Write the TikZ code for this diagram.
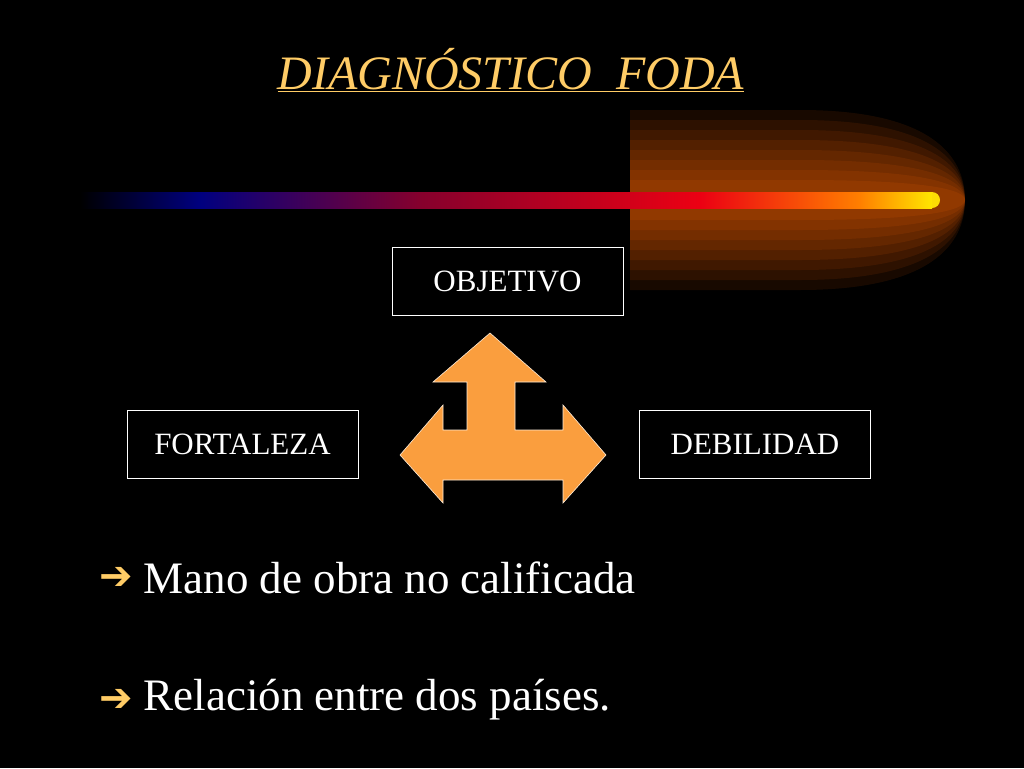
\documentclass[tikz,border=0pt]{standalone}
\usepackage{fontspec}
\setmainfont{Liberation Serif}
\newfontfamily\symfont{DejaVu Sans}
\usetikzlibrary{positioning}
\definecolor{gold}{RGB}{255,204,102}
\definecolor{flame}{RGB}{250,158,62}
\tikzset{
  labelbox/.style={draw=white, line width=0.8pt, minimum width=231pt,
    minimum height=68pt, text=white, font=\fontsize{31}{36}\selectfont},
  bullet/.style={text=white, anchor=west, font=\fontsize{45}{50}\selectfont},
  marker/.style={text=gold, font=\symfont\bfseries\fontsize{40}{44}\selectfont}
}
\begin{document}
\begin{tikzpicture}[x=1pt,y=-1pt]
  \fill[black] (0,0) rectangle (1024,768);
  \useasboundingbox (0,0) rectangle (1024,768);
  % title
  \node[text=gold, font=\itshape\fontsize{48}{52}\selectfont] (title) at (511,70)
    {\underline{DIAGNÓSTICO\ \ FODA}};
  % comet glow
  \foreach \r/\o in {180/0.12,160/0.12,140/0.12,120/0.14,100/0.14,80/0.16,60/0.18,40/0.2}{
    \fill[orange!80!red!80!black, opacity=\o]
      (630,200-\r/2) -- (800,200-\r/2)
      .. controls (930,200-\r/2) and (965,200-\r/4) .. (965,200)
      .. controls (965,200+\r/4) and (930,200+\r/2) .. (800,200+\r/2)
      -- (630,200+\r/2) -- cycle;
  }
  \shade[left color=black, right color=blue!50!black] (80,192) rectangle (200,208);
  \shade[left color=blue!50!black, right color=purple!70!black] (200,192) rectangle (420,208);
  \shade[left color=purple!70!black, right color=red!70!purple] (420,192) rectangle (700,208);
  \shade[left color=red!70!purple, right color=orange] (700,192) rectangle (860,208);
  \shade[left color=orange, right color=yellow!80!orange] (860,192) rectangle (932,208);
  \fill[yellow!80!orange] (932,192) arc (-90:90:8) -- cycle;
  % boxes
  \node[labelbox] (obj) at (507.5,281.5) {OBJETIVO};
  \node[labelbox] (fort) at (242.5,444) {FORTALEZA};
  \node[labelbox] (deb) at (755,444) {DEBILIDAD};
  % three-way arrow
  \fill[flame, draw=white!80!flame, line width=0.6pt]
    (490,333) -- (546,382) -- (515,382) -- (515,430) -- (563,430) -- (563,405)
    -- (606,455) -- (563,503) -- (563,480) -- (443,480) -- (443,503)
    -- (400,455) -- (443,405) -- (443,430) -- (467,430) -- (467,382)
    -- (433,382) -- cycle;
  % bullets
  \node[marker] (b1) at (116,578) {➔};
  \node[bullet] (t1) at (140,578) {Mano de obra no calificada};
  \node[marker] (b2) at (116,700) {➔};
  \node[bullet] (t2) at (140,700) {Relación entre dos países.};
\end{tikzpicture}
\end{document}
